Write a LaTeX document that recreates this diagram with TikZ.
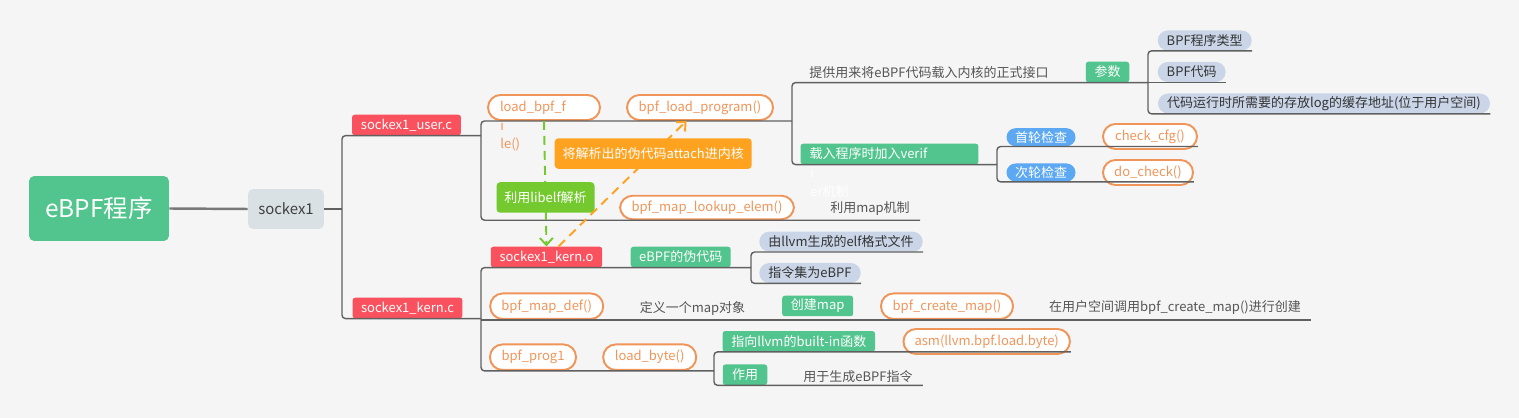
\documentclass[tikz,border=0pt]{standalone}
\usepackage{fontspec}
\setmainfont{Noto Sans CJK SC}
\usetikzlibrary{arrows.meta}

\definecolor{bgc}{HTML}{F5F5F5}
\definecolor{mgreen}{HTML}{52C48D}
\definecolor{lgreen}{HTML}{74C92F}
\definecolor{mred}{HTML}{F9525E}
\definecolor{morange}{HTML}{F0955A}
\definecolor{oyellow}{HTML}{FFA21F}
\definecolor{mblue}{HTML}{5CA8F2}
\definecolor{mgray}{HTML}{D9E1E4}
\definecolor{mpale}{HTML}{CAD6E8}
\definecolor{linec}{HTML}{606060}
\definecolor{txtc}{HTML}{555555}

\tikzset{
	fs/.style={font=\fontsize{7.4pt}{10.4pt}\selectfont},
	tbox/.style={fs, rounded corners=1.5pt, inner sep=0pt, text=white, minimum height=0.41cm},
	redbox/.style={tbox, fill=mred},
	grnbox/.style={tbox, fill=mgreen},
	blubox/.style={tbox, fill=mblue, rounded corners=0.18cm, minimum height=0.36cm},
	palebox/.style={tbox, fill=mpale, text=black!80, rounded corners=0.2cm, minimum height=0.4cm},
	ovalbox/.style={fs, draw=morange, line width=1.1pt, fill=white, text=morange, rounded corners=0.25cm, inner sep=0pt, minimum height=0.5cm},
	plaintext/.style={fs, text=txtc, inner xsep=0.2cm, inner ysep=0pt},
	branch/.style={draw=linec, line width=0.8pt, rounded corners=2pt},
	relline/.style={line width=1.1pt, dash pattern=on 0.18cm off 0.12cm, -{Straight Barb[length=1.4mm,width=2.6mm]}},
	relbox/.style={fs, text=white, rounded corners=2pt, inner sep=0pt, minimum height=0.61cm},
}

\begin{document}
\begin{tikzpicture}[x=0.02cm,y=-0.02cm]
	\fill[bgc] (0,0) rectangle (1519,418);
	\useasboundingbox (0,0) rectangle (1519,418);

	% bracket columns
	\coordinate (b0) at (342,0);
	\coordinate (b1) at (481,0);
	\coordinate (b2) at (792,0);
	\coordinate (b3) at (1148,0);
	\coordinate (b4) at (997,0);
	\coordinate (b5) at (751,0);
	\coordinate (b6) at (714,0);

	\path (99,208.5) node[fill=mgreen, text=white, rounded corners=3pt, minimum width=2.8cm, minimum height=1.3cm, font=\fontsize{13.9pt}{16pt}\selectfont] (ebpf) {eBPF程序};
	\path (286,209) node[fill=mgray, text=black!75, rounded corners=3pt, minimum width=1.52cm, minimum height=0.8cm, font=\fontsize{8.5pt}{10pt}\selectfont] (sock) {sockex1};

	% user side
	\path (406.5,125) node[redbox, minimum width=2.18cm] (userc) {sockex1\_user.c};
	\path (544,107.5) node[ovalbox, inner xsep=0.24cm, text width=1.76cm, align=left] (loadbpf) {load\_bpf\_f};
	\path (500,136) node[fs, text=morange, anchor=west, align=left, inner sep=0pt] (loadrest) {i\\le()};
	\path (700,107.5) node[ovalbox, minimum width=2.92cm] (bpfload) {bpf\_load\_program()};
	\path (707,207.5) node[ovalbox, minimum width=3.48cm, minimum height=0.47cm] (lookup) {bpf\_map\_lookup\_elem()};
	\path (870,209) node[plaintext] (maptext) {利用map机制};
	\path (929,73) node[plaintext] (intf) {提供用来将eBPF代码载入内核的正式接口};
	\path (1107.5,72) node[grnbox, minimum width=0.87cm] (param) {参数};
	\path (1204.7,40.5) node[palebox, minimum width=1.88cm] (t1) {BPF程序类型};
	\path (1191.7,72) node[palebox, minimum width=1.36cm] (t2) {BPF代码};
	\path (1324,103.5) node[palebox, minimum width=6.64cm] (t3) {代码运行时所需要的存放log的缓存地址(位于用户空间)};
	\path (889.5,154) node[grnbox, inner xsep=0.18cm, text width=3.2cm, align=left] (verif) {载入程序时加入verif};
	\path (810,182.5) node[fs, text=white, anchor=west, align=left, inner sep=0pt] (verifrest) {i\\er机制};
	\path (1041,137.2) node[blubox, minimum width=1.38cm] (firstchk) {首轮检查};
	\path (1150,136.5) node[ovalbox, minimum width=1.88cm] (cfg) {check\_cfg()};
	\path (1041,172.5) node[blubox, minimum width=1.38cm] (secchk) {次轮检查};
	\path (1148,172.5) node[ovalbox, minimum width=1.8cm] (docheck) {do\_check()};

	% kern side
	\path (407.5,308) node[redbox, minimum width=2.2cm] (kernc) {sockex1\_kern.c};
	\path (546.5,257) node[redbox, minimum width=2.23cm] (kerno) {sockex1\_kern.o};
	\path (680.7,257) node[grnbox, minimum width=2.0cm] (pseudo) {eBPF的伪代码};
	\path (841,241.7) node[palebox, minimum width=3.27cm] (llvmelf) {由llvm生成的elf格式文件};
	\path (810,273) node[palebox, minimum width=2.03cm] (isaebpf) {指令集为eBPF};
	\path (546.7,306.2) node[ovalbox, minimum width=2.26cm, minimum height=0.51cm] (mapdef) {bpf\_map\_def()};
	\path (692.5,308) node[plaintext] (defmap) {定义一个map对象};
	\path (817.7,306) node[grnbox, minimum width=1.42cm] (createmap) {创建map};
	\path (947,306.2) node[ovalbox, minimum width=2.64cm, minimum height=0.51cm] (createfn) {bpf\_create\_map()};
	\path (1175,307.7) node[plaintext] (uspace) {在用户空间调用bpf\_create\_map()进行创建};
	\path (533,357.2) node[ovalbox, minimum width=1.72cm, minimum height=0.51cm] (prog1) {bpf\_prog1};
	\path (649.7,357.2) node[ovalbox, minimum width=1.86cm, minimum height=0.51cm] (loadbyte) {load\_byte()};
	\path (798.8,341.3) node[grnbox, minimum width=3.05cm] (builtin) {指向llvm的built-in函数};
	\path (986.7,341.5) node[ovalbox, minimum width=3.33cm] (asm) {asm(llvm.bpf.load.byte)};
	\path (745,374.7) node[grnbox, minimum width=0.89cm] (zuoyong) {作用};
	\path (858,376.7) node[plaintext] (usage) {用于生成eBPF指令};

	% branches
	\draw[draw=black!53, line width=1.4pt] (ebpf.east) -- (sock.west);
	\draw[branch] (sock.east) -- (sock.east -| b0);
	\draw[branch] (userc.south -| b1) -- (userc.south -| b0) -- (kernc.south -| b0) -- (kernc.south -| b1);
	\draw[branch] (loadbpf.south -| b2) -- (loadbpf.south -| b1) -- (lookup.south -| b1) -- (lookup.south -| maptext.east);
	\draw[branch] (param.south -| b3) -- (param.south -| b2) -- (verif.south -| b2) -- (verif.south -| b4);
	\draw[branch] (t1.south east) -- (t1.south -| b3) -- (t3.south -| b3) -- (t3.south east);
	\draw[branch] (t2.south -| b3) -- (t2.south east);
	\draw[branch] (firstchk.south -| cfg.east) -- (firstchk.south -| b4) -- (secchk.south -| b4) -- (secchk.south -| docheck.east);
	\draw[branch] (kerno.south -| b5) -- (kerno.south -| b1) -- (prog1.south -| b1) -- (prog1.south -| b6);
	\draw[branch] (mapdef.south -| b1) -- (mapdef.south -| uspace.east);
	\draw[branch] (llvmelf.south east) -- (llvmelf.south -| b5) -- (isaebpf.south -| b5) -- (isaebpf.south east);
	\draw[branch] (builtin.south -| asm.east) -- (builtin.south -| b6) -- (zuoyong.south -| b6) -- (zuoyong.south -| usage.east);

	% relationships
	\draw[relline, draw=lgreen] (loadbpf.south) -- (kerno.north) node[relbox, fill=lgreen, pos=0.61, minimum width=1.96cm] (libelf) {利用libelf解析};
	\draw[relline, draw=oyellow] ([xshift=0.24cm]kerno.north) -- ([xshift=-0.27cm]bpfload.south) node[relbox, fill=oyellow, pos=0.74, minimum width=3.94cm] (attach) {将解析出的伪代码attach进内核};
\end{tikzpicture}
\end{document}
